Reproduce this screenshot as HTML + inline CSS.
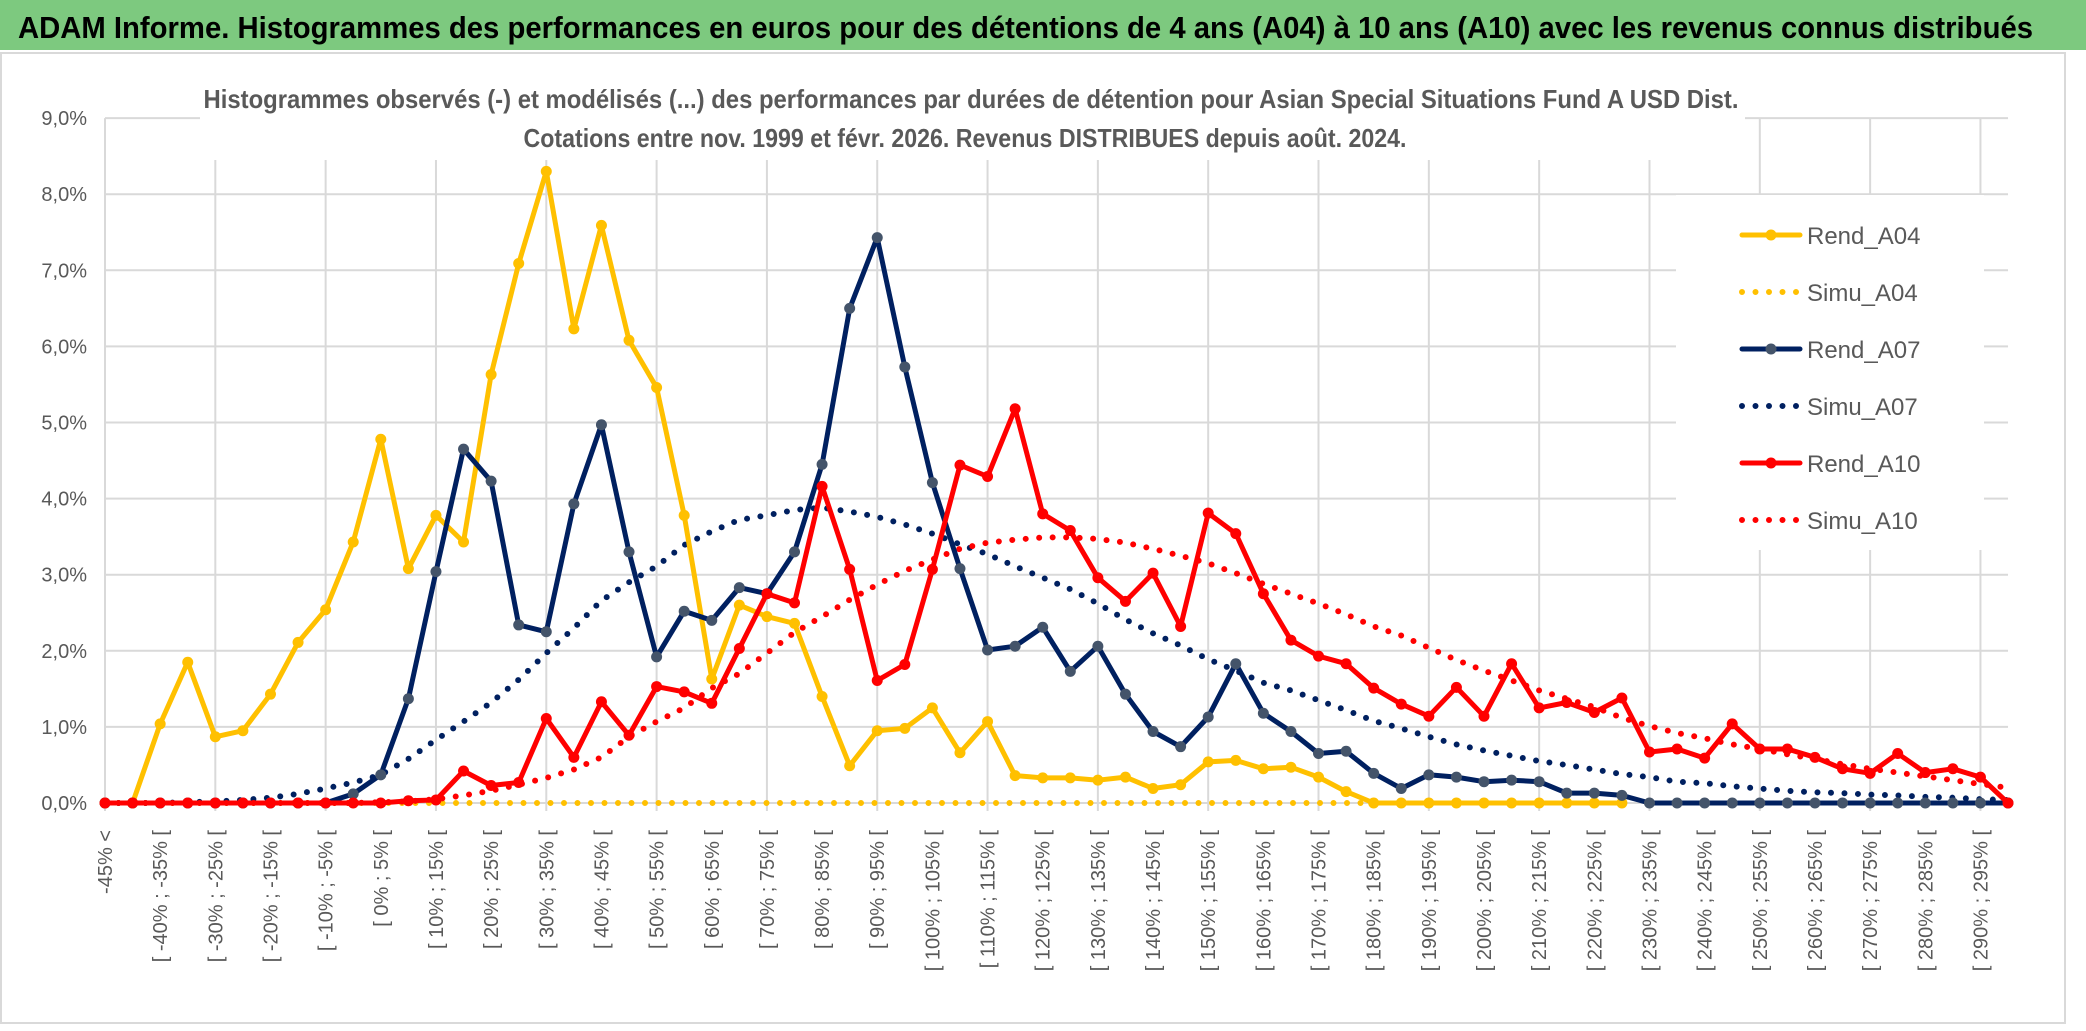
<!DOCTYPE html>
<html><head><meta charset="utf-8"><style>
html,body{margin:0;padding:0;background:#fff;}
svg{display:block;}
text{font-family:"Liberation Sans",sans-serif;}
</style></head><body>
<svg id="chart" width="2086" height="1031" viewBox="0 0 2086 1031" xmlns="http://www.w3.org/2000/svg">
<rect x="0" y="0" width="2086" height="1031" fill="#fff"/>
<rect x="0" y="0" width="2086" height="50" fill="#7dc97f"/>
<text x="18" y="38" font-size="31" font-weight="bold" fill="#000" textLength="2015" lengthAdjust="spacingAndGlyphs">ADAM Informe. Histogrammes des performances en euros pour des détentions de 4 ans (A04) à 10 ans (A10) avec les revenus connus distribués</text>
<rect x="1" y="53" width="2064" height="970" fill="none" stroke="#d9d9d9" stroke-width="2"/>
<g id="grid"></g>
<rect x="200" y="70" width="1545" height="90" fill="#fff"/>
<text x="971" y="108" font-size="26" font-weight="bold" fill="#595959" text-anchor="middle" textLength="1535" lengthAdjust="spacingAndGlyphs">Histogrammes observés (-) et modélisés (...) des performances par durées de détention pour Asian Special Situations Fund A USD Dist.</text>
<text x="965" y="147" font-size="26" font-weight="bold" fill="#595959" text-anchor="middle" textLength="883" lengthAdjust="spacingAndGlyphs">Cotations entre nov. 1999 et févr. 2026. Revenus DISTRIBUES depuis août. 2024.</text>
<g id="yaxis"></g>
<g id="xaxis"></g>
<g id="series"></g>
<g id="legend"></g>
</svg>
<script>
const rendA04 = [0,0,1.04,1.85,0.87,0.95,1.43,2.11,2.54,3.43,4.78,3.08,3.78,3.43,5.63,7.09,8.30,6.23,7.59,6.08,5.46,3.78,1.63,2.60,2.45,2.36,1.40,0.49,0.95,0.98,1.25,0.66,1.07,0.36,0.33,0.33,0.30,0.34,0.19,0.24,0.54,0.56,0.45,0.47,0.34,0.15,0,0,0,0,0,0,0,0,0,0,null,null,null,null,null,null,null,null,null,null,null,null,null,null];
const simuA04 = [0,0,0,0,0,0,0,0,0,0,0,0,0,0,0,0,0,0,0,0,0,0,0,0,0,0,0,0,0,0,0,0,0,0,0,0,0,0,0,0,0,0,0,0,0,0,0,null,null,null,null,null,null,null,null,null,null,null,null,null,null,null,null,null,null,null,null,null,null,null];
const rendA07 = [0,0,0,0,0,0,0,0,0,0.12,0.37,1.37,3.04,4.65,4.23,2.34,2.25,3.93,4.97,3.30,1.92,2.52,2.40,2.83,2.75,3.30,4.45,6.50,7.43,5.73,4.21,3.08,2.01,2.06,2.31,1.73,2.06,1.43,0.94,0.74,1.13,1.83,1.18,0.94,0.65,0.68,0.39,0.19,0.37,0.34,0.28,0.30,0.28,0.13,0.13,0.10,0,0,0,0,0,0,0,0,0,0,0,0,0,0];
const simuA07 = [0,0,0,0.01,0.02,0.04,0.07,0.12,0.19,0.27,0.37,0.58,0.83,1.07,1.32,1.62,1.97,2.30,2.66,2.90,3.11,3.39,3.57,3.72,3.78,3.85,3.88,3.83,3.76,3.66,3.54,3.40,3.27,3.11,2.96,2.81,2.62,2.41,2.23,2.07,1.89,1.74,1.58,1.48,1.35,1.22,1.08,0.98,0.87,0.77,0.69,0.62,0.55,0.50,0.44,0.38,0.34,0.28,0.26,0.22,0.19,0.16,0.14,0.13,0.11,0.10,0.08,0.07,0.05,0.04];
const rendA10 = [0,0,0,0,0,0,0,0,0,0,0,0.03,0.04,0.42,0.23,0.27,1.11,0.60,1.33,0.89,1.53,1.46,1.31,2.03,2.75,2.63,4.16,3.07,1.61,1.82,3.07,4.44,4.29,5.18,3.80,3.58,2.96,2.65,3.02,2.32,3.81,3.54,2.75,2.14,1.93,1.83,1.51,1.30,1.14,1.52,1.14,1.83,1.25,1.32,1.19,1.38,0.67,0.71,0.59,1.04,0.71,0.71,0.60,0.45,0.39,0.65,0.40,0.45,0.34,0];
const simuA10 = [0,0,0,0,0,0,0,0,0,0,0.01,0.02,0.05,0.10,0.16,0.24,0.33,0.44,0.60,0.87,1.07,1.25,1.51,1.70,1.97,2.24,2.45,2.67,2.87,3.05,3.20,3.34,3.42,3.46,3.49,3.49,3.47,3.42,3.34,3.25,3.15,3.02,2.88,2.75,2.62,2.48,2.32,2.20,2.04,1.88,1.74,1.61,1.48,1.37,1.26,1.12,1.01,0.92,0.85,0.77,0.71,0.64,0.58,0.51,0.45,0.40,0.35,0.30,0.25,0.20];
const yTicks = [0,1,2,3,4,5,6,7,8,9];
const legendLabels = ["Rend_A04","Simu_A04","Rend_A07","Simu_A07","Rend_A10","Simu_A10"];

const NS = "http://www.w3.org/2000/svg";
const N = 70;
const X0 = 105, DX = 27.58, Y0 = 803, UNIT = 76.1;
function xPos(i){ return X0 + i*DX; }
function yPos(v){ return Y0 - v*UNIT; }
function catLabel(i){ return i===0 ? "-45% <" : "[ " + (-50+5*i) + "% ; " + (-45+5*i) + "% ["; }
function mk(tag, attrs, parent){ const e=document.createElementNS(NS,tag); for(const k in attrs) e.setAttribute(k,attrs[k]); parent.appendChild(e); return e; }

const grid = document.getElementById('grid');
yTicks.forEach(t=>{
  const l = mk('line',{x1:X0,x2:xPos(N-1),y1:yPos(t),y2:yPos(t),stroke:'#d9d9d9','stroke-width':2},grid);
  
  
});
for(let i=0;i<N;i+=4){
  const l = mk('line',{x1:xPos(i),x2:xPos(i),y1:yPos(9),y2:Y0+8,stroke:'#d9d9d9','stroke-width':2},grid);
  
  
}
const ya = document.getElementById('yaxis');
yTicks.forEach(t=>{
  const tx = mk('text',{x:87,y:yPos(t)+7,'font-size':20,fill:'#595959','text-anchor':'end'},ya);
  tx.textContent = t.toFixed(1).replace('.',',') + '%';
  
  
});
const xa = document.getElementById('xaxis');
for(let i=0;i<N;i+=2){
  const x = xPos(i)+7, y = 830;
  const tx = mk('text',{x:x,y:y,'font-size':20,fill:'#595959','text-anchor':'end',transform:`rotate(-90 ${x} ${y})`},xa);
  tx.textContent = catLabel(i);
  
  
}

const ser = document.getElementById('series');
function pathFor(arr){
  let d='', pen=false;
  arr.forEach((v,i)=>{ if(v===null){pen=false;return;} d += (pen?'L':'M') + xPos(i).toFixed(1)+' '+yPos(v).toFixed(1)+' '; pen=true; });
  return d;
}
function drawSimu(arr,color,name){
  const p = mk('path',{d:pathFor(arr),fill:'none',stroke:color,'stroke-width':6,'stroke-linecap':'round','stroke-dasharray':'0 13.5'},ser);
  
  
}
function drawRend(arr,color,mcolor,name){
  const g = mk('g',{},ser);
  
  
  mk('path',{d:pathFor(arr),fill:'none',stroke:color,'stroke-width':5,'stroke-linejoin':'round'},g);
  arr.forEach((v,i)=>{ if(v===null) return;
    const c = mk('circle',{cx:xPos(i),cy:yPos(v),r:5.5,fill:mcolor},g);
    
    
  });
}
drawSimu(simuA04,'#ffc000','simu-a04-line');
drawSimu(simuA07,'#002060','simu-a07-line');
drawSimu(simuA10,'#ff0000','simu-a10-line');
drawRend(rendA04,'#ffc000','#ffc000','rend-a04-line');
drawRend(rendA07,'#002060','#44546a','rend-a07-line');
drawRend(rendA10,'#ff0000','#ff0000','rend-a10-line');

const lg = document.getElementById('legend');
const bg = mk('rect',{x:1676,y:195,width:308,height:355,fill:'#fff'},lg);


const lcols = ['#ffc000','#ffc000','#002060','#002060','#ff0000','#ff0000'];
legendLabels.forEach((lab,k)=>{
  const y = 235 + k*57;
  const g = mk('g',{},lg);
  
  
  if(k%2===0){
    mk('line',{x1:1742,x2:1800,y1:y,y2:y,stroke:lcols[k],'stroke-width':5,'stroke-linecap':'round'},g);
    mk('circle',{cx:1771,cy:y,r:5.5,fill:k===2?'#44546a':lcols[k]},g);
  } else {
    mk('line',{x1:1742,x2:1800,y1:y,y2:y,stroke:lcols[k],'stroke-width':6,'stroke-linecap':'round','stroke-dasharray':'0 13.5'},g);
  }
  const t = mk('text',{x:1807,y:y+9,'font-size':24,fill:'#595959'},g);
  t.textContent = lab;
});
</script>
</body></html>
